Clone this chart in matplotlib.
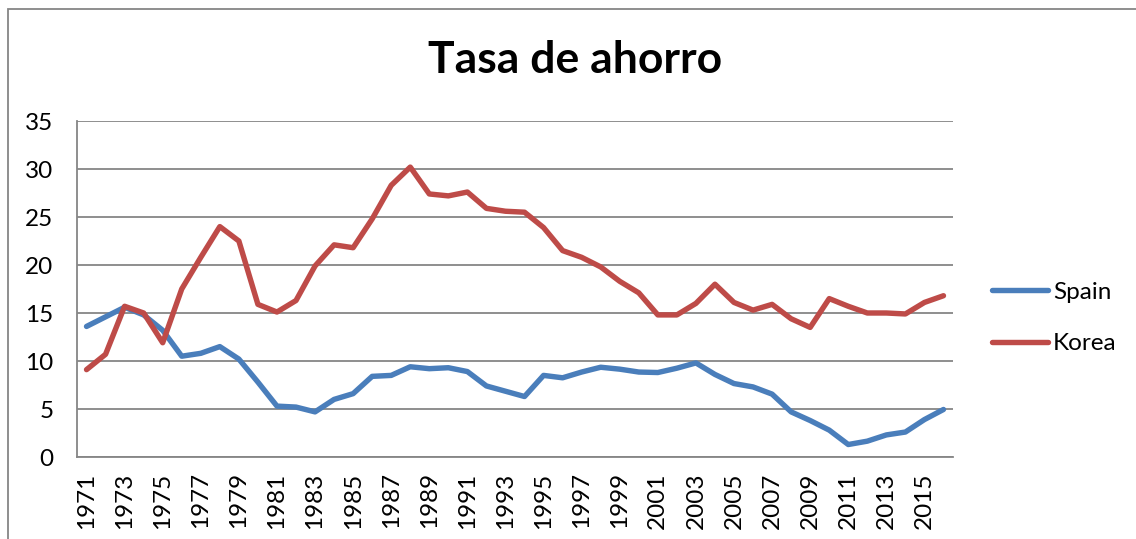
import matplotlib
matplotlib.use("Agg")
import matplotlib.pyplot as plt
from matplotlib.patches import Rectangle

years = list(range(1971, 2017))
spain = [13.6, 14.6, 15.6, 14.8, 13.2, 10.5, 10.8, 11.5, 10.2, 7.8,
         5.3, 5.2, 4.7, 6.0, 6.6, 8.4, 8.5, 9.4, 9.2, 9.3,
         8.9, 7.4, 6.85, 6.3, 8.5, 8.25, 8.85, 9.35, 9.15, 8.85,
         8.8, 9.25, 9.8, 8.6, 7.65, 7.3, 6.55, 4.7, 3.8, 2.8,
         1.3, 1.65, 2.3, 2.6, 3.9, 4.95]
korea = [9.1, 10.7, 15.7, 15.0, 11.9, 17.5, 20.8, 24.0, 22.5, 15.9,
         15.1, 16.3, 19.9, 22.1, 21.8, 24.8, 28.3, 30.2, 27.4, 27.2,
         27.6, 25.9, 25.6, 25.5, 23.9, 21.5, 20.8, 19.8, 18.3, 17.1,
         14.8, 14.8, 16.0, 18.0, 16.1, 15.3, 15.9, 14.4, 13.5, 16.5,
         15.7, 15.0, 15.0, 14.9, 16.1, 16.8]
series_names = ["Spain", "Korea"]
colors = ["#4A7EBB", "#BE4B48"]
yticks = [0, 5, 10, 15, 20, 25, 30, 35]
title = "Tasa de ahorro"

plt.rcParams['font.family'] = ['Lato', 'DejaVu Sans']
FS = 17.5

fig = plt.figure(figsize=(11.36, 5.39), dpi=100)
ax = fig.add_axes([77/1136, 1-457/539, (953-77)/1136, (457-121)/539])

x = list(range(len(years)))
for vals, name, c in zip([spain, korea], series_names, colors):
    ax.plot(x, vals, color=c, lw=3.9, label=name, solid_capstyle='round',
            solid_joinstyle='round')

ax.set_xlim(-0.5, len(years) - 0.5)
ax.set_ylim(0, 35)
ax.set_yticks(yticks)
ax.set_yticklabels([str(v) for v in yticks], fontsize=FS)
ax.set_xticks(x[::2])
ax.set_xticklabels([str(y) for y in years[::2]], rotation=90, fontsize=FS)
ax.tick_params(axis='y', length=0, pad=17)
ax.tick_params(axis='x', length=0, pad=11)
ax.grid(axis='y', color='#868686', lw=1.3)
ax.set_axisbelow(True)
for s in ['top', 'right']:
    ax.spines[s].set_visible(False)
for s in ['left', 'bottom']:
    ax.spines[s].set_color('#868686')
    ax.spines[s].set_linewidth(1.3)

fig.text(575/1136, 1-60/539, title, fontsize=32, fontweight='bold',
         ha='center', va='center')

leg = fig.legend(*ax.get_legend_handles_labels(), loc='center left',
                 bbox_to_anchor=(992/1136, 1-318/539), frameon=False,
                 fontsize=FS, handlelength=2.3, handletextpad=0.2,
                 labelspacing=1.25, borderpad=0, borderaxespad=0)

# outer chart frame (cropped at right and bottom)
fig.patches.append(Rectangle((8/1136, -0.1), 1.2, 1.1 - 9/539,
                             transform=fig.transFigure, fill=False,
                             edgecolor='#868686', lw=1.3))

fig.savefig("out.png", dpi=100)
